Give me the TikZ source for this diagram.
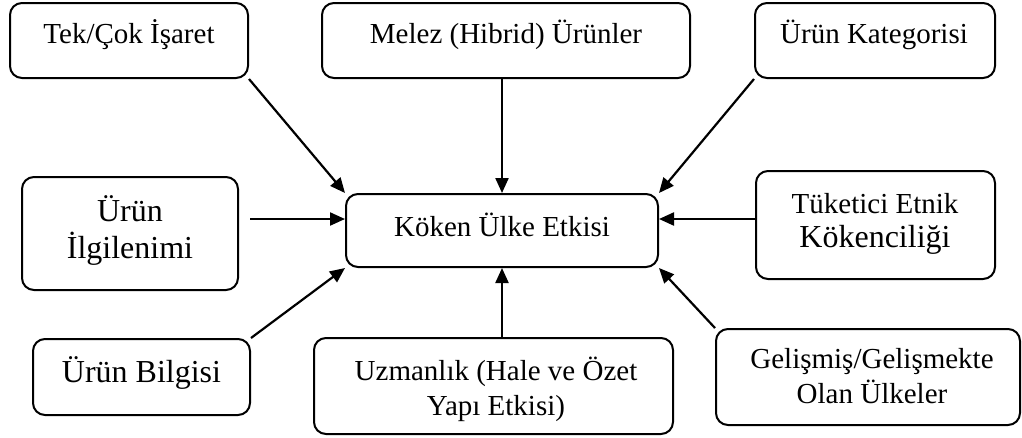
\documentclass[tikz,border=0pt]{standalone}
\usepackage{fontspec}
\setmainfont{Liberation Serif}
\usetikzlibrary{arrows.meta,calc}

\tikzset{
  box/.style={draw=black, line width=2pt, rounded corners=12pt, inner sep=0pt},
  lbl/.style={anchor=base, align=center, inner sep=0pt, font=\fontsize{29}{35}\selectfont},
  big/.style={font=\fontsize{32}{37}\selectfont},
  arr/.style={line width=2.2pt, -{Triangle[length=15pt,width=13pt]}},
}

\begin{document}
\begin{tikzpicture}[x=1pt,y=-1pt]
\useasboundingbox (0,0) rectangle (1022,437);

% boxes
\node[box, minimum width=238pt, minimum height=75pt]  (tek) at (129,40.5)   {};
\node[box, minimum width=368pt, minimum height=75pt]  (mel) at (506,40.5)   {};
\node[box, minimum width=240pt, minimum height=75pt]  (kat) at (875,40.5)   {};
\node[box, minimum width=216pt, minimum height=113pt] (ilg) at (130,233.5)  {};
\node[box, minimum width=312pt, minimum height=73pt]  (kok) at (502,230.5)  {};
\node[box, minimum width=239pt, minimum height=108pt] (tuk) at (875.5,225)  {};
\node[box, minimum width=217pt, minimum height=76pt]  (bil) at (141.5,377)  {};
\node[box, minimum width=359pt, minimum height=96pt]  (uzm) at (493.5,386)  {};
\node[box, minimum width=304pt, minimum height=96pt]  (gel) at (868,377)    {};

% texts (multi-line labels are anchored at the baseline of their last line)
\node[lbl] (tekt) at (129,43) {Tek/Çok İşaret};
\node[lbl] (melt) at (506,43) {Melez (Hibrid) Ürünler};
\node[lbl] (katt) at (874,43) {Ürün Kategorisi};
\node[lbl,big] (ilgt) at (130,258) {Ürün\\İlgilenimi};
\node[lbl] (kokt) at (502,236) {Köken Ülke Etkisi};
\node[lbl, font=\fontsize{29}{34}\selectfont] (tukt) at (875,247)
  {Tüketici Etnik\\{\fontsize{32}{34}\selectfont Kökenciliği}};
\node[lbl,big] (bilt) at (141.5,382) {Ürün Bilgisi};
\node[lbl] (uzmt) at (496,415) {Uzmanlık (Hale ve Özet\\Yapı Etkisi)};
\node[lbl] (gelt) at (872,403) {Gelişmiş/Gelişmekte\\Olan Ülkeler};

% connectors into the central box
\coordinate (lvl) at (0,219);
\draw[arr] ($(ilg.east |- lvl)+(11,0)$) -- (kok.west |- lvl);
\draw[arr] (tuk.west |- lvl) -- (kok.east |- lvl);
\draw[arr] (tek.south east) -- (kok.north west);
\draw[arr] (kok.north |- mel.south) -- (kok.north);
\draw[arr] (kat.south west) -- (kok.north east);
\draw[arr] (bil.north east) -- (kok.south west);
\draw[arr] (kok.south |- uzm.north) -- (kok.south);
\draw[arr] (gel.north west) -- (kok.south east);
\end{tikzpicture}
\end{document}
